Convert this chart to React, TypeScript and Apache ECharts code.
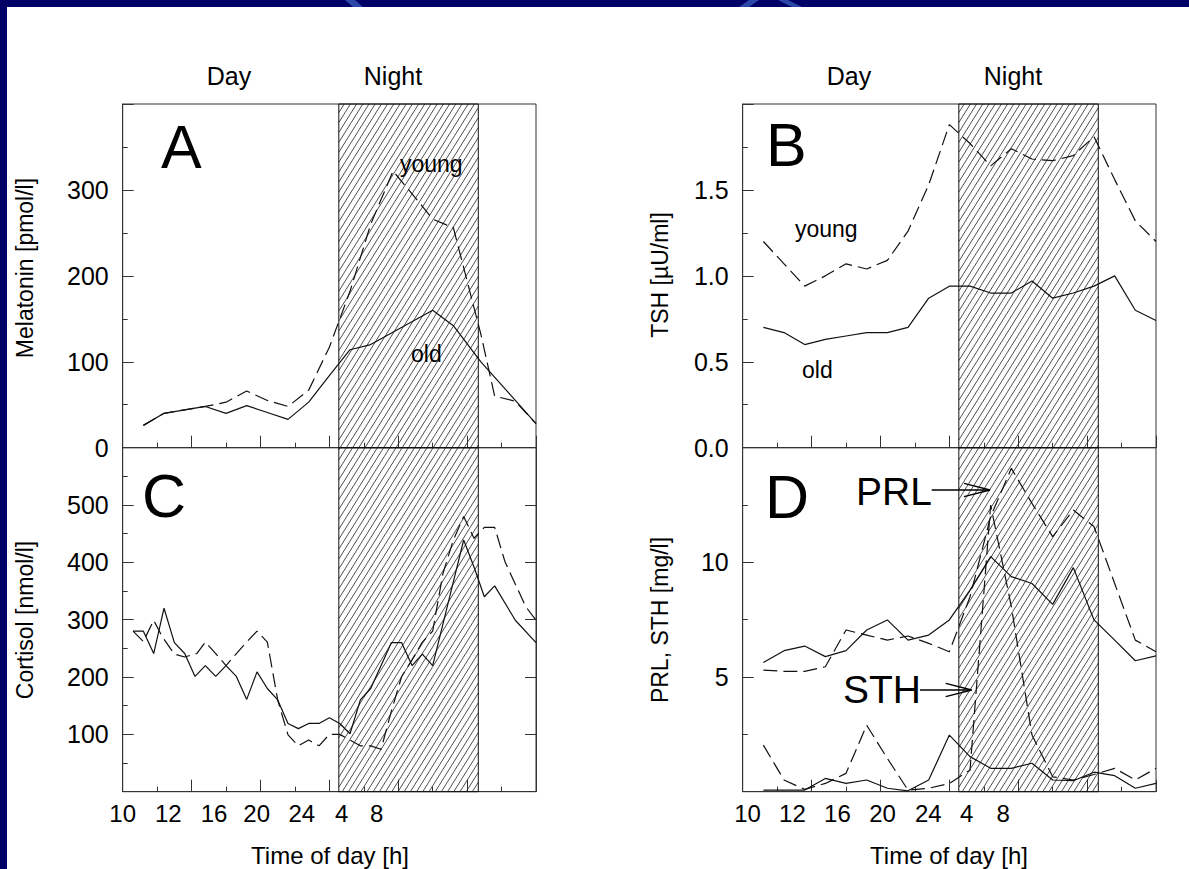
import React, { useEffect, useRef } from 'react';
import * as echarts from 'echarts';

// ---------- data ----------
// time axis: hours elapsed since 10:00
const xTickLabelText = ['10', '12', '16', '20', '24', '4', '8'];
const xTickLabelPosLeft = [0, 2.65, 5.3, 7.78, 10.4, 12.72, 14.75];
const xTickLabelPosRight = [0.28, 2.89, 5.5, 8.12, 10.78, 13.0, 15.13];
const nightStart = 12.55;
const nightEnd = 20.65;

// A: melatonin [pmol/l]
const melOldHours = [1.2, 2.4, 4.8, 6.0, 7.2, 8.4, 9.6, 10.8, 12.0, 13.2, 14.4, 18.0, 19.2, 20.8, 24.0];
const melOld = [26, 40, 48, 40, 49, 41, 33, 53, 84, 114, 120, 160, 142, 100, 28];
const melYoungHours = [1.2, 2.4, 4.8, 6.0, 7.2, 8.4, 9.6, 10.8, 12.0, 13.2, 14.4, 15.7, 17.4, 18.0, 19.2, 20.8, 21.6, 22.8, 24.0];
const melYoung = [26, 40, 48, 53, 66, 55, 48, 67, 117, 182, 260, 322, 281, 266, 256, 132, 60, 54, 28];

// B: TSH [µU/ml]
const tshHours = [1.2, 2.4, 3.6, 4.8, 6.0, 7.2, 8.4, 9.6, 10.8, 12.0, 13.2, 14.4, 15.6, 16.8, 18.0, 19.2, 20.4, 21.6, 22.8, 24.0];
const tshOld = [0.70, 0.67, 0.60, 0.63, 0.65, 0.67, 0.67, 0.70, 0.87, 0.94, 0.94, 0.90, 0.90, 0.97, 0.87, 0.90, 0.94, 1.00, 0.80, 0.74];
const tshYoung = [1.20, 1.07, 0.94, 1.00, 1.07, 1.04, 1.09, 1.26, 1.53, 1.88, 1.77, 1.64, 1.74, 1.68, 1.67, 1.70, 1.81, 1.56, 1.32, 1.20];

// C: cortisol [nmol/l]
const corOldHours = [0.6, 1.2, 1.8, 2.4, 3.0, 3.6, 4.2, 4.8, 5.4, 6.0, 6.6, 7.2, 7.8, 8.4, 9.0, 9.6, 10.2, 10.8, 11.4, 12.0, 12.6, 13.2, 13.8, 14.4, 15.6, 16.2, 16.8, 17.4, 18.0, 19.2, 19.8, 20.4, 21.0, 21.6, 22.8, 24.0];
const corOld = [280, 280, 241, 320, 260, 241, 201, 220, 201, 220, 201, 161, 209, 180, 160, 119, 110, 119, 119, 129, 119, 101, 160, 180, 260, 260, 220, 240, 220, 366, 439, 392, 340, 359, 299, 260];
const corYoungHours = [0.6, 1.2, 1.8, 2.3, 3.0, 3.6, 4.3, 4.8, 5.4, 6.0, 6.6, 7.2, 7.8, 8.4, 9.0, 9.6, 10.2, 10.8, 11.4, 12.0, 12.6, 13.2, 13.8, 14.4, 15.0, 15.6, 16.2, 16.8, 17.4, 18.0, 18.6, 19.2, 19.8, 20.4, 21.0, 21.6, 22.2, 23.4, 24.0];
const corYoung = [280, 262, 299, 270, 240, 235, 241, 261, 241, 220, 241, 261, 280, 261, 160, 99, 80, 90, 80, 100, 100, 90, 80, 80, 74, 140, 201, 230, 261, 280, 381, 439, 480, 442, 461, 461, 401, 323, 299];

// D: PRL, STH [mg/l]
const dHours = [1.2, 2.4, 3.6, 4.8, 6.0, 7.2, 8.4, 9.6, 10.8, 12.0, 13.2, 14.4, 15.6, 16.8, 18.0, 19.2, 20.4, 21.6, 22.8, 24.0];
const prlOld = [5.63, 6.15, 6.35, 5.89, 6.15, 7.05, 7.49, 6.61, 6.83, 7.49, 8.79, 10.25, 9.38, 9.08, 8.17, 9.77, 7.49, 6.61, 5.71, 5.92];
const prlYoung = [5.3, 5.25, 5.25, 5.45, 7.05, 6.83, 6.61, 6.79, 6.47, 6.1, 8.5, 12.0, 14.1, 12.57, 11.12, 12.28, 11.56, 9.08, 6.61, 6.1];
const sthOld = [0.07, 0.07, 0.07, 0.58, 0.36, 0.51, 0.15, 0.04, 0.51, 2.47, 1.53, 1.02, 1.02, 1.24, 0.51, 0.48, 0.85, 0.7, 0.15, 0.36];
const sthYoung = [2.03, 0.51, 0.1, 0.36, 0.8, 2.9, 1.45, 0.07, 0.15, 0.36, 0.94, 12.5, 8.07, 2.47, 0.65, 0.51, 0.75, 1.02, 0.51, 1.02];

const yLabelsA = [0, 100, 200, 300];
const yLabelsB = [0, 0.5, 1.0, 1.5];
const yLabelsC = [100, 200, 300, 400, 500];
const yLabelsD = [5, 10];

// ---------- layout / style ----------
const FONT = '"Liberation Sans", Arial, Helvetica, sans-serif';
const FRAME = '#333';
const INK = '#111';
const NAVY = '#000066';
const DECO = '#2b48a8';
const L1 = 122.7, L2 = 742.7, PW = 413.3;
const T1 = 104, H1 = 343.7, T2 = 447.7, H2 = 344;

const zip = (xs: number[], ys: number[]) => xs.map((x, i) => [x, ys[i]]);

function xAxis(grid: number, labelPos: number[] | null) {
  return {
    type: 'value', gridIndex: grid, min: 0, max: 24, interval: 4,
    axisLine: { show: true, lineStyle: { color: FRAME, width: 1 } },
    axisTick: { show: true, inside: true, length: 12, lineStyle: { color: FRAME } },
    minorTick: { show: true, splitNumber: 2, length: 5, lineStyle: { color: FRAME } },
    splitLine: { show: false },
    minorSplitLine: { show: false },
    axisLabel: labelPos ? {
      show: true, customValues: labelPos, margin: 10, fontSize: 24, color: '#000', fontFamily: FONT,
      formatter: (v: number) => {
        let best = 0;
        labelPos.forEach((p, i) => { if (Math.abs(p - v) < Math.abs(labelPos[best] - v)) best = i; });
        return xTickLabelText[best];
      },
    } : { show: false },
  };
}

function yAxis(grid: number, max: number, interval: number, labels: number[], dec: number) {
  return {
    type: 'value', gridIndex: grid, min: 0, max, interval,
    axisLine: { show: true, lineStyle: { color: FRAME, width: 1 } },
    axisTick: { show: true, inside: true, length: 11, lineStyle: { color: FRAME } },
    minorTick: { show: true, splitNumber: 2, length: 5, lineStyle: { color: FRAME } },
    splitLine: { show: false },
    minorSplitLine: { show: false },
    axisLabel: {
      show: true, customValues: labels, margin: 14, fontSize: 25, color: '#000', fontFamily: FONT,
      formatter: (v: number) => v.toFixed(dec),
    },
  };
}

function line(xi: number, yi: number, xs: number[], ys: number[], dashed: boolean) {
  return {
    type: 'line', xAxisIndex: xi, yAxisIndex: yi, data: zip(xs, ys),
    showSymbol: false, symbol: 'none', silent: true, z: 3,
    lineStyle: { color: INK, width: 1.2, type: dashed ? [14, 6] : 'solid' },
  };
}

function hatchRender(params: any, api: any) {
  const cs = params.coordSys;
  const xs = api.coord([api.value(0), 0])[0];
  const xe = api.coord([api.value(2), 0])[0];
  const y0 = cs.y, y1 = cs.y + cs.height;
  const s = 1.6, d = 6.2;
  const children: any[] = [];
  const cMin = xs + y0 / s, cMax = xe + y1 / s;
  for (let k = Math.floor(cMin / d); k * d <= cMax; k++) {
    const c = k * d;
    const yTop = Math.max(y0, s * (c - xe));
    const yBot = Math.min(y1, s * (c - xs));
    if (yTop < yBot) {
      children.push({
        type: 'line',
        shape: { x1: c - yBot / s, y1: yBot, x2: c - yTop / s, y2: yTop },
        style: { stroke: '#222', lineWidth: 0.8 },
      });
    }
  }
  children.push({
    type: 'rect', shape: { x: xs, y: y0, width: xe - xs, height: y1 - y0 },
    style: { fill: 'none', stroke: INK, lineWidth: 1 },
  });
  return { type: 'group', children };
}

function hatch(xi: number, yi: number) {
  return {
    type: 'custom', xAxisIndex: xi, yAxisIndex: yi, silent: true, z: 1, clip: false,
    dimensions: ['start', 'y', 'end'], encode: { x: 0, y: 1 },
    data: [[nightStart, 0, nightEnd]],
    renderItem: hatchRender,
  };
}

function txt(text: string, x: number, y: number, size: number, align = 'left', rotation = 0) {
  return {
    type: 'text', x, y, rotation, z: 10, silent: true,
    style: { text, fontSize: size, fontFamily: FONT, fill: '#000', align, verticalAlign: 'middle' },
  };
}

function arrow(x1: number, x2: number, y: number) {
  return [
    { type: 'line', z: 10, silent: true, shape: { x1, y1: y, x2, y2: y }, style: { stroke: '#000', lineWidth: 1.3 } },
    { type: 'polyline', z: 10, silent: true, shape: { points: [[x2 - 26, y - 6.7], [x2, y], [x2 - 26, y + 6.7]] }, style: { stroke: '#000', fill: 'none', lineWidth: 1.3 } },
  ];
}

function deco(points: number[][]) {
  return { type: 'polygon', silent: true, z: 11, shape: { points }, style: { fill: DECO } };
}

export default function App() {
  const ref = useRef<HTMLDivElement>(null);
  useEffect(() => {
    if (!ref.current) return;
    const chart = echarts.init(ref.current, null, { renderer: 'svg' });
    const grid = (left: number, top: number, height: number) => ({
      left, top, width: PW, height, show: true, borderColor: FRAME, borderWidth: 1, backgroundColor: 'transparent', containLabel: false,
    });
    const option: any = {
      animation: false,
      backgroundColor: '#ffffff',
      textStyle: { fontFamily: FONT },
      grid: [grid(L1, T1, H1), grid(L1, T2, H2), grid(L2, T1, H1), grid(L2, T2, H2)],
      xAxis: [xAxis(0, null), xAxis(1, xTickLabelPosLeft), xAxis(2, null), xAxis(3, xTickLabelPosRight)],
      yAxis: [
        yAxis(0, 400, 100, yLabelsA, 0),
        yAxis(1, 600, 100, yLabelsC, 0),
        yAxis(2, 2, 0.5, yLabelsB, 1),
        yAxis(3, 15, 5, yLabelsD, 0),
        {
          type: 'value', gridIndex: 1, position: 'right', min: 0, max: 600, interval: 100,
          axisLine: { show: true, lineStyle: { color: FRAME } },
          axisTick: { show: true, inside: true, length: 11, lineStyle: { color: FRAME } },
          axisLabel: { show: false }, splitLine: { show: false },
        },
      ],
      series: [
        hatch(0, 0), hatch(1, 1), hatch(2, 2), hatch(3, 3),
        line(0, 0, melOldHours, melOld, false),
        line(0, 0, melYoungHours, melYoung, true),
        line(1, 1, corOldHours, corOld, false),
        line(1, 1, corYoungHours, corYoung, true),
        line(2, 2, tshHours, tshOld, false),
        line(2, 2, tshHours, tshYoung, true),
        line(3, 3, dHours, prlOld, false),
        line(3, 3, dHours, prlYoung, true),
        line(3, 3, dHours, sthOld, false),
        line(3, 3, dHours, sthYoung, true),
      ],
      graphic: [
        { type: 'rect', silent: true, z: 10, shape: { x: 0, y: 0, width: 1189, height: 7 }, style: { fill: NAVY } },
        { type: 'rect', silent: true, z: 10, shape: { x: 0, y: 0, width: 7, height: 869 }, style: { fill: NAVY } },
        deco([[345, 0], [355, 0], [363, 7], [353, 7]]),
        deco([[739, 7], [749, 0], [759, 0], [749, 7]]),
        deco([[778, 0], [788, 0], [802, 7], [792, 7]]),
        txt('Day', 229, 76, 25, 'center'),
        txt('Night', 393, 76, 25, 'center'),
        txt('Day', 849, 76, 25, 'center'),
        txt('Night', 1013, 76, 25, 'center'),
        txt('A', 161, 147, 61),
        txt('B', 766, 145, 61),
        txt('C', 142, 496, 61),
        txt('D', 765, 497, 61),
        txt('young', 400, 164, 23),
        txt('old', 411, 354, 23),
        txt('young', 795, 229, 23),
        txt('old', 802, 370, 23),
        txt('PRL', 856, 491, 39),
        txt('STH', 843, 689, 39),
        ...arrow(931.7, 990, 490),
        ...arrow(920, 971.7, 690),
        txt('Melatonin [pmol/l]', 25, 268, 23, 'center', Math.PI / 2),
        txt('Cortisol [nmol/l]', 25, 620, 23, 'center', Math.PI / 2),
        txt('TSH [µU/ml]', 660, 275, 23, 'center', Math.PI / 2),
        txt('PRL, STH [mg/l]', 660, 620, 23, 'center', Math.PI / 2),
        txt('Time of day [h]', 330, 855, 24, 'center'),
        txt('Time of day [h]', 949, 855, 24, 'center'),
      ],
    };
    chart.setOption(option);
    return () => chart.dispose();
  }, []);
  return <div ref={ref} style={{ position: 'absolute', left: 0, top: 0, width: 1189, height: 869 }} />;
}
